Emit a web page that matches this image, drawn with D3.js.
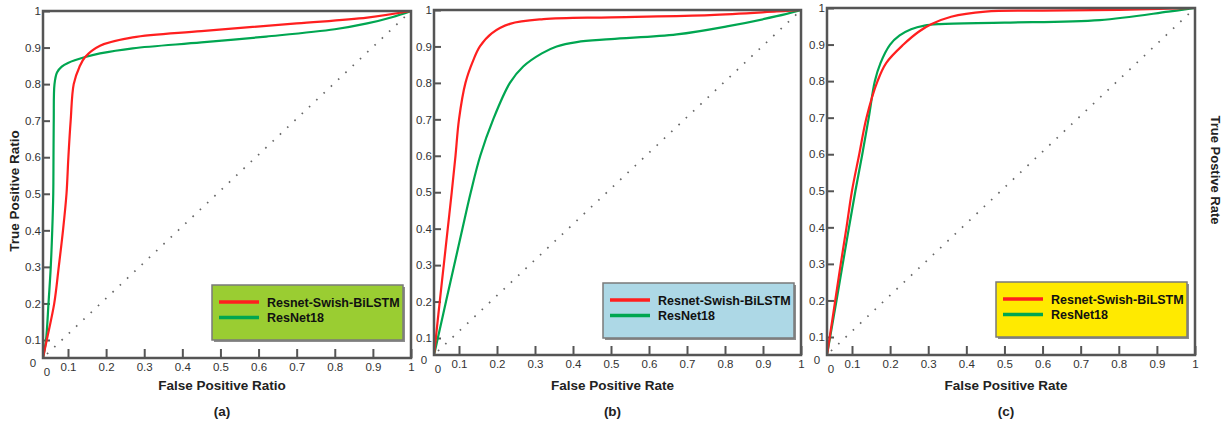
<!DOCTYPE html>
<html>
<head>
<meta charset="utf-8">
<script src="https://cdn.jsdelivr.net/npm/d3@7"></script>
<style>
  body { margin: 0; background: #fff; }
  svg { display: block; font-family: "Liberation Sans", Arial, sans-serif; }
  .tick text { font-size: 11.5px; fill: #333; }
  .tick line { stroke: #555; stroke-width: 2; }
</style>
</head>
<body>
<script>
// ROC data, [false positive rate, true positive rate]
const seriesNames = ["Resnet-Swish-BiLSTM", "ResNet18"];
const tickValues = [0.1, 0.2, 0.3, 0.4, 0.5, 0.6, 0.7, 0.8, 0.9, 1];
const panelTags = ["(a)", "(b)", "(c)"];
const xTitles = ["False Positive Ratio", "False Positive Rate", "False Positive Rate"];

const redA = [[0,0],[0.015,0.1],[0.045,0.2],[0.063,0.3],[0.08,0.4],[0.094,0.5],[0.101,0.6],[0.107,0.7],
  [0.115,0.8],[0.13,0.847],[0.145,0.874],[0.184,0.905],[0.27,0.928],[0.45,0.945],[0.7,0.966],[0.885,0.982],[1,1]];
const greenA = [[0,0],[0.012,0.1],[0.022,0.2],[0.031,0.3],[0.037,0.4],[0.041,0.5],[0.042,0.6],[0.043,0.7],
  [0.046,0.8],[0.056,0.832],[0.075,0.848],[0.1,0.858],[0.145,0.874],[0.184,0.884],[0.27,0.898],[0.45,0.914],
  [0.62,0.93],[0.8,0.95],[0.885,0.966],[0.95,0.983],[1,1]];

const redB = [[0,0],[0.0074,0.1],[0.023,0.2],[0.039,0.3],[0.055,0.4],[0.071,0.5],[0.086,0.6],[0.1,0.7],
  [0.117,0.8],[0.138,0.863],[0.155,0.9],[0.186,0.936],[0.234,0.962],[0.322,0.975],[0.5,0.98],[0.76,0.986],
  [0.936,0.996],[1,1]];
const greenB = [[0,0],[0.0154,0.1],[0.048,0.2],[0.081,0.3],[0.109,0.4],[0.131,0.5],[0.156,0.6],[0.19,0.7],
  [0.234,0.8],[0.269,0.845],[0.318,0.881],[0.357,0.9],[0.41,0.912],[0.5,0.92],[0.673,0.933],[0.805,0.955],
  [0.936,0.983],[1,1]];

const redC = [[0,0],[0.011,0.1],[0.033,0.2],[0.055,0.3],[0.078,0.4],[0.1,0.5],[0.119,0.6],[0.138,0.7],
  [0.167,0.8],[0.19,0.85],[0.235,0.9],[0.275,0.935],[0.309,0.956],[0.36,0.976],[0.45,0.99],[0.6,0.993],
  [0.8,0.995],[1,1]];
const greenC = [[0,0],[0.0125,0.1],[0.038,0.2],[0.063,0.3],[0.088,0.4],[0.109,0.5],[0.127,0.6],[0.144,0.7],
  [0.16,0.8],[0.175,0.85],[0.2,0.9],[0.225,0.925],[0.255,0.942],[0.29,0.952],[0.33,0.956],[0.5,0.96],
  [0.75,0.967],[0.93,0.99],[1,1]];

const seriesColors = ["#ff1f1f", "#00a651"];
const legendFills = ["#9acd32", "#add8e6", "#ffea00"];

// pixel layout of each panel: corner (0,0), the 0.1 tick and the 1 tick
const panels = [
  { left: 43, x01: 68, right: 411, top: 11, y01: 340, bottom: 358, leg: [212, 285], red: redA, green: greenA },
  { left: 434, x01: 459, right: 801, top: 10, y01: 338, bottom: 355, leg: [603, 283], red: redB, green: greenB },
  { left: 827, x01: 852, right: 1195, top: 8, y01: 337, bottom: 355, leg: [996, 282], red: redC, green: greenC }
];

const width = 1230, height = 424;
const svg = d3.select("body").append("svg")
  .attr("width", width)
  .attr("height", height);

panels.forEach((p, i) => {
  // the figure puts 0 in the corner but the 0.1 tick further out, so the scale is piecewise
  let x = d3.scaleLinear().domain([0, 0.1, 1]).range([p.left, p.x01, p.right]);
  let y = d3.scaleLinear().domain([0, 0.1, 1]).range([p.bottom, p.y01, p.top]);
  let g = svg.append("g");

  g.append("clipPath").attr("id", "clip" + i)
    .append("rect")
    .attr("x", p.left).attr("y", p.top)
    .attr("width", p.right - p.left).attr("height", p.bottom - p.top);

  g.append("g")
    .attr("transform", `translate(0,${p.bottom})`)
    .call(d3.axisBottom(x).tickValues(tickValues).tickSizeInner(-9).tickSizeOuter(0).tickPadding(5)
      .tickFormat(d => String(d)))
    .call(a => a.select(".domain").remove());

  g.append("g")
    .attr("transform", `translate(${p.left},0)`)
    .call(d3.axisLeft(y).tickValues(tickValues).tickSizeInner(-7).tickSizeOuter(0).tickPadding(2)
      .tickFormat(d => String(d)))
    .call(a => a.select(".domain").remove());

  // zero labels sit at the corner
  g.append("text").attr("x", x(0) - 10).attr("y", y(0) + 9)
    .attr("font-size", 11.5).attr("fill", "#333").attr("text-anchor", "middle").text("0");
  g.append("text").attr("x", x(0) + 4).attr("y", y(0) + 18)
    .attr("font-size", 11.5).attr("fill", "#333").attr("text-anchor", "middle").text("0");

  // chance diagonal
  g.append("line")
    .attr("x1", x(0) + 4).attr("y1", y(0) - 4)
    .attr("x2", x(1)).attr("y2", y(1))
    .attr("stroke", "#666").attr("stroke-width", 1.7)
    .attr("stroke-dasharray", "1.6,8.4");

  let line = d3.line()
    .x(d => x(d[0]))
    .y(d => y(d[1]))
    .curve(d3.curveCatmullRom.alpha(0.5));

  [p.green, p.red].forEach((s, k) => {
    g.append("path")
      .datum(s)
      .attr("d", line)
      .attr("clip-path", `url(#clip${i})`)
      .attr("fill", "none")
      .attr("stroke", k === 0 ? seriesColors[1] : seriesColors[0])
      .attr("stroke-width", 2.2);
  });

  g.append("rect")
    .attr("x", p.left).attr("y", p.top)
    .attr("width", p.right - p.left).attr("height", p.bottom - p.top)
    .attr("fill", "none").attr("stroke", "#555").attr("stroke-width", 2.5);

  // legend
  let lg = g.append("g").attr("transform", `translate(${p.leg[0]},${p.leg[1]})`);
  lg.append("rect").attr("x", 2).attr("y", 2).attr("width", 191).attr("height", 55).attr("fill", "#8c8c8c");
  lg.append("rect").attr("width", 191).attr("height", 55)
    .attr("fill", legendFills[i]).attr("stroke", "#7a7a7a").attr("stroke-width", 1.5);
  seriesNames.forEach((name, k) => {
    let yy = 17 + k * 15.5;
    lg.append("line").attr("x1", 7).attr("x2", 47).attr("y1", yy).attr("y2", yy)
      .attr("stroke", seriesColors[k]).attr("stroke-width", 3.5);
    lg.append("text").attr("x", 55).attr("y", yy + 4.5)
      .attr("font-size", 12.5).attr("font-weight", "bold").attr("fill", "#111").text(name);
  });

  // axis titles
  let cx = (p.left + p.right) / 2 - 5;
  g.append("text").attr("x", cx).attr("y", 390)
    .attr("text-anchor", "middle").attr("font-size", 13.5).attr("font-weight", "bold").attr("fill", "#222")
    .text(xTitles[i]);
  g.append("text").attr("x", cx).attr("y", 416)
    .attr("text-anchor", "middle").attr("font-size", 13.5).attr("font-weight", "bold").attr("fill", "#222")
    .text(panelTags[i]);
});

svg.append("text")
  .attr("transform", "translate(19,191) rotate(-90)")
  .attr("text-anchor", "middle").attr("font-size", 13.5).attr("font-weight", "bold").attr("fill", "#222")
  .text("True Positive Ratio");

svg.append("text")
  .attr("transform", "translate(1211,170) rotate(90)")
  .attr("text-anchor", "middle").attr("font-size", 13).attr("font-weight", "bold").attr("fill", "#222")
  .text("True Postive Rate");
</script>
</body>
</html>
